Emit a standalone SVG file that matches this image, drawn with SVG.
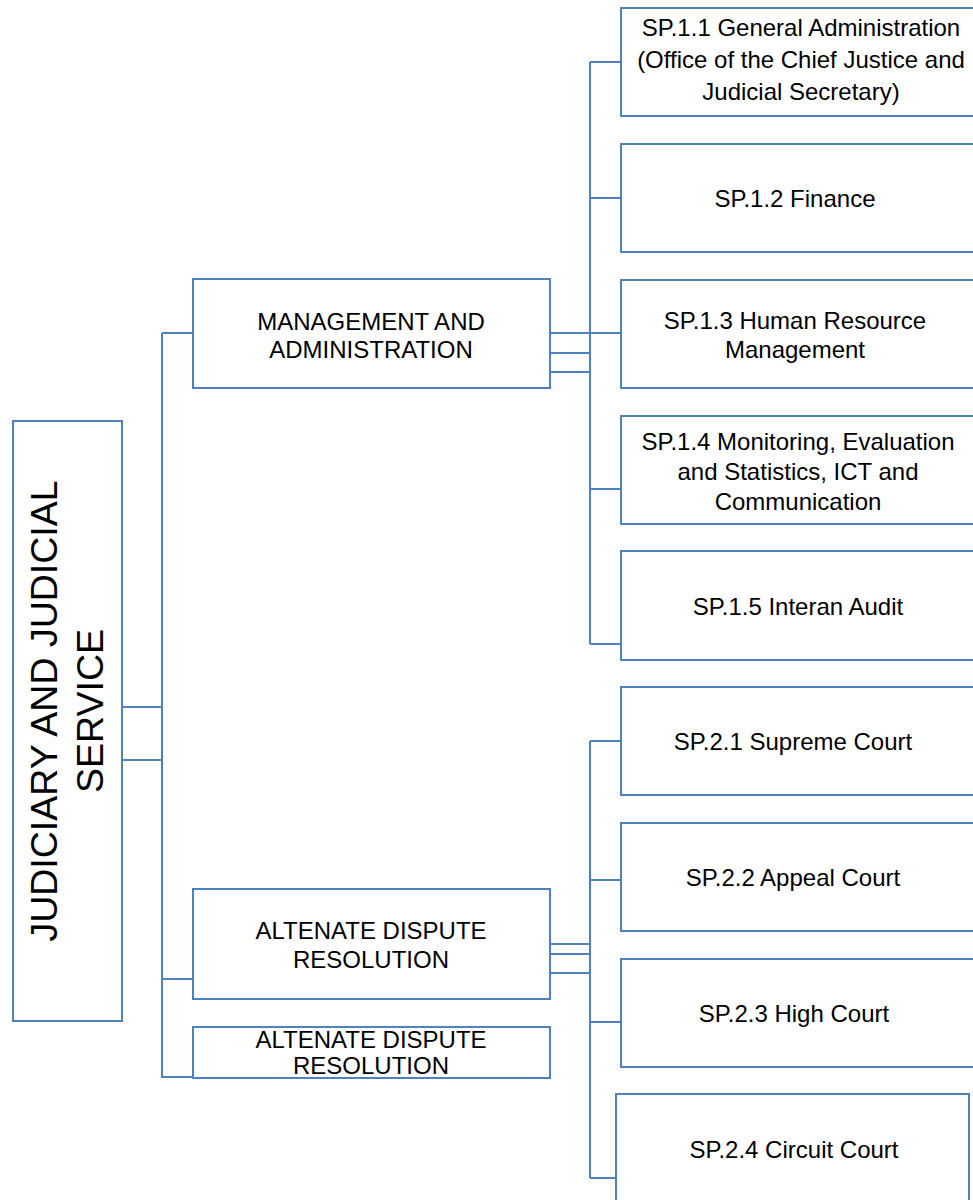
<svg xmlns="http://www.w3.org/2000/svg" width="973" height="1200" viewBox="0 0 973 1200">
<style>
.box{fill:#ffffff;stroke:#4f81bd;stroke-width:2}
.ln{fill:none;stroke:#4f81bd;stroke-width:2}
text{font-family:"Liberation Sans",Arial,sans-serif;font-size:24px;fill:#000;text-anchor:middle}
.root{font-size:37.5px}
</style>
<rect width="973" height="1200" fill="#ffffff"/>
<g id="connectors">
<path class="ln" d="M122 707H162M122 760H162"/>
<path class="ln" d="M162 333V1078M162 333H193M162 979H193M162 1077H193"/>
<path class="ln" d="M550 333H621M550 353H590M550 372H590M590 62V644M590 62H621M590 198H621M590 489H621M590 644H621"/>
<path class="ln" d="M550 944H590M550 954H590M550 973H590M590 741V1178M590 741H621M590 880H621M590 1022H621M590 1178H616"/>
</g>
<g id="root">
<rect class="box" x="13" y="421" width="109" height="600"/>
<text class="root" transform="translate(57,711) rotate(-90)">JUDICIARY AND JUDICIAL</text>
<text class="root" transform="translate(103,711) rotate(-90)">SERVICE</text>
</g>
<g id="mgmt">
<rect class="box" x="193" y="279" width="357" height="109"/>
<text x="371" y="330">MANAGEMENT AND</text>
<text x="371" y="358">ADMINISTRATION</text>
</g>
<g id="alt1">
<rect class="box" x="193" y="889" width="357" height="110"/>
<text x="371" y="939">ALTENATE DISPUTE</text>
<text x="371" y="968">RESOLUTION</text>
</g>
<g id="alt2">
<rect class="box" x="193" y="1027" width="357" height="51"/>
<text x="371" y="1048">ALTENATE DISPUTE</text>
<text x="371" y="1074">RESOLUTION</text>
</g>
<g id="sp11">
<rect class="box" x="621" y="8" width="370" height="108"/>
<text x="801" y="36">SP.1.1 General Administration</text>
<text x="801" y="68">(Office of the Chief Justice and</text>
<text x="801" y="100">Judicial Secretary)</text>
</g>
<g id="sp12">
<rect class="box" x="621" y="144" width="370" height="108"/>
<text x="795" y="207">SP.1.2 Finance</text>
</g>
<g id="sp13">
<rect class="box" x="621" y="280" width="370" height="108"/>
<text x="795" y="329">SP.1.3 Human Resource</text>
<text x="795" y="358">Management</text>
</g>
<g id="sp14">
<rect class="box" x="621" y="416" width="370" height="108"/>
<text x="798" y="450">SP.1.4 Monitoring, Evaluation</text>
<text x="798" y="480">and Statistics, ICT and</text>
<text x="798" y="510">Communication</text>
</g>
<g id="sp15">
<rect class="box" x="621" y="551" width="370" height="109"/>
<text x="798" y="615">SP.1.5 Interan Audit</text>
</g>
<g id="sp21">
<rect class="box" x="621" y="687" width="370" height="108"/>
<text x="793" y="750">SP.2.1 Supreme Court</text>
</g>
<g id="sp22">
<rect class="box" x="621" y="823" width="370" height="108"/>
<text x="793" y="886">SP.2.2 Appeal Court</text>
</g>
<g id="sp23">
<rect class="box" x="621" y="959" width="370" height="108"/>
<text x="794" y="1022">SP.2.3 High Court</text>
</g>
<g id="sp24">
<rect class="box" x="616" y="1094" width="353" height="120"/>
<text x="794" y="1158">SP.2.4 Circuit Court</text>
</g>
</svg>
